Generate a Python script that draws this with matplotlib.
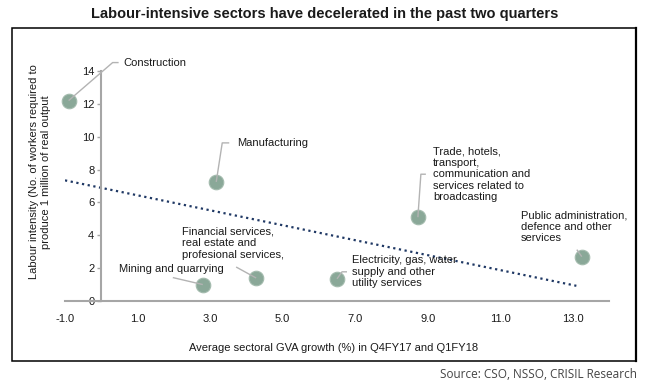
import numpy as np
import matplotlib.pyplot as plt
from matplotlib.patches import Rectangle
from matplotlib.lines import Line2D

# data
sectors = [
    "Construction",
    "Manufacturing",
    "Mining and quarrying",
    "Financial services,\nreal estate and\nprofesional services,",
    "Electricity, gas, water\nsupply and other\nutility services",
    "Trade, hotels,\ntransport,\ncommunication and\nservices related to\nbroadcasting",
    "Public administration,\ndefence and other\nservices",
]
gva_growth = [-0.9, 3.17, 2.8, 4.27, 6.5, 8.73, 13.25]
labour_intensity = [12.2, 7.25, 1.0, 1.4, 1.35, 5.1, 2.7]
x_ticks = [-1.0, 1.0, 3.0, 5.0, 7.0, 9.0, 11.0, 13.0]
y_ticks = [0, 2, 4, 6, 8, 10, 12, 14]

# label layout: text offset (px) and leader path (px) relative to each point
label_layout = [
    ((55, 38), "left", [(0, 0), (44, 38), (50, 38)]),
    ((21, 39), "left", [(0, 0), (6, 39), (13, 39)]),
    ((-31, 16), "center", [(0, 0), (-30, 7)]),
    ((-74, 35), "left", [(0, 0), (-20, 11)]),
    ((15, 7), "left", [(0, 0), (5, 7), (10, 7)]),
    ((15, 43), "left", [(0, 0), (3, 43), (8, 43)]),
    ((-61, 30), "left", [(0, 0), (-5, 7)]),
]

plt.rcParams['font.family'] = ['Liberation Sans', 'DejaVu Sans']
text_col = '#1a1a1a'
axis_col = '#a6a6a6'

fig = plt.figure(figsize=(6.5, 3.84), dpi=100)
ax = fig.add_axes([65 / 650, 1 - 301 / 384, (609 - 65) / 650, (301 - 71) / 384])
ax.set_xlim(-1, 14)
ax.set_ylim(0, 14)

# outer frame
fig.patches.append(Rectangle((12 / 650, 1 - 361 / 384), (636 - 12) / 650, (361 - 28) / 384,
                             transform=fig.transFigure, fill=False, edgecolor='black', lw=1.1))
fig.lines.append(Line2D([636 / 650, 636 / 650], [1 - 361 / 384, 1 - 28 / 384],
                        transform=fig.transFigure, color='black', lw=1.6))

fig.text(0.5, 1 - 14 / 384, "Labour-intensive sectors have decelerated in the past two quarters",
         ha='center', va='center', fontsize=10.5, fontweight='bold', color=text_col)
fig.text(637 / 650, 1 - 374 / 384, "Source: CSO, NSSO, CRISIL Research",
         ha='right', va='center', fontsize=8.5, color='#444444', family='Open Sans')

# trend line over data range
coef = np.polyfit(gva_growth, labour_intensity, 1)
tx = np.array([-1.0, 13.1])
ax.plot(tx, np.polyval(coef, tx), linestyle=(0, (1, 1.6)), color='#1f3864', lw=1.6, zorder=2)

# leader lines (pixel offsets from each point)
inv = ax.transData.inverted()
for gx, gy, (toff, ha, path) in zip(gva_growth, labour_intensity, label_layout):
    base = ax.transData.transform((gx, gy))
    offs = np.array(path, dtype=float)
    pts = inv.transform(base + offs)
    ax.plot(pts[:, 0], pts[:, 1], color='#b3b3b3', lw=1, zorder=4,
            solid_capstyle='butt', clip_on=False)

ax.scatter(gva_growth, labour_intensity, s=110, color='#8aa898', edgecolor='#a3bbad',
           linewidth=0.8, zorder=3, clip_on=False)

for name, gx, gy, (toff, ha, path) in zip(sectors, gva_growth, labour_intensity, label_layout):
    ax.annotate(name, (gx, gy), xytext=(toff[0] * 0.72, toff[1] * 0.72), textcoords='offset points',
                ha=ha, va='center', fontsize=8, color=text_col, linespacing=1.2)

ax.spines['left'].set_position(('data', 0))
ax.spines['left'].set_bounds(0, 14)
ax.spines['top'].set_visible(False)
ax.spines['right'].set_visible(False)
for s in ['left', 'bottom']:
    ax.spines[s].set_color(axis_col)
    ax.spines[s].set_linewidth(1.5)
ax.set_facecolor('none')

ax.set_xticks(x_ticks)
ax.set_xticklabels([f"{v:.1f}" for v in x_ticks])
ax.set_yticks(y_ticks)
ax.tick_params(axis='x', length=0, pad=9, labelsize=8, labelcolor=text_col)
ax.tick_params(axis='y', length=3, width=1, color=axis_col, pad=2, labelsize=8, labelcolor=text_col)

fig.text(334 / 650, 1 - 348 / 384, "Average sectoral GVA growth (%) in Q4FY17 and Q1FY18",
         ha='center', va='center', fontsize=8, color=text_col)
fig.text(40 / 650, 1 - 172 / 384,
         "Labour intensity (No. of workers required to\nproduce 1 million of real output",
         ha='center', va='center', rotation=90, fontsize=8, color=text_col, linespacing=1.3)

fig.savefig('out.png', dpi=100)
